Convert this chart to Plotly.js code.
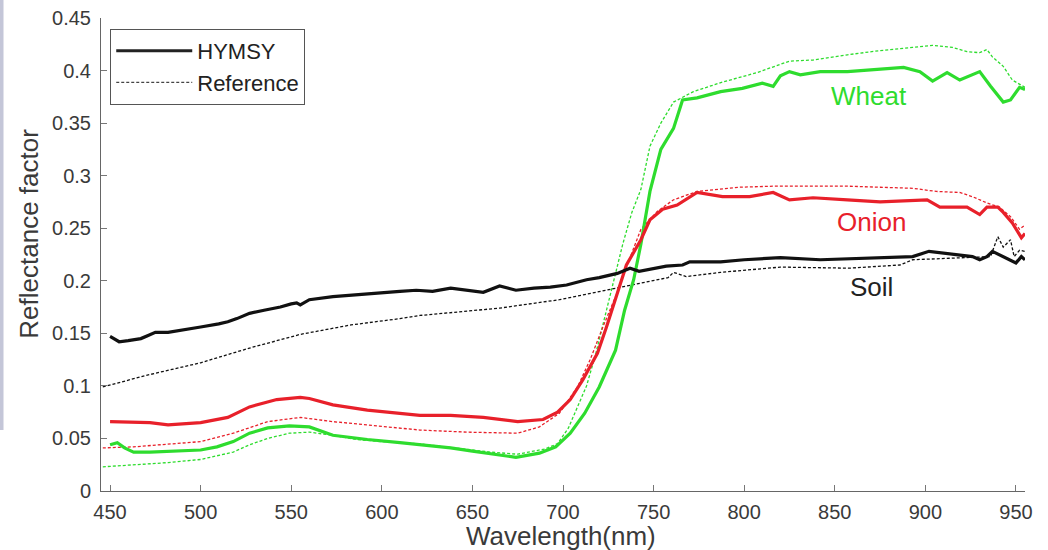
<!DOCTYPE html>
<html>
<head>
<meta charset="utf-8">
<script src="https://cdn.plot.ly/plotly-3.0.1.min.js"></script>
<style>html,body{margin:0;padding:0;background:#fff;}</style>
</head>
<body>
<div id="chart" style="width:1048px;height:550px;"></div>
<script>
// Soil
const soilHymsyNm = [450,455,460,467,471,475,482,490,500,510,515,520,527,535,544,550,553,555,560,573,580,592,600,610,619,628,638,647,656,665,674,684,693,702,713,720,730,737,742,757,766,770,787,800,820,842,857,875,893,902,912,919,926,930,934,937,943,948,950,953,955];
const soilHymsy = [0.147,0.142,0.143,0.145,0.148,0.151,0.151,0.153,0.156,0.159,0.161,0.164,0.169,0.172,0.175,0.178,0.179,0.177,0.182,0.185,0.186,0.188,0.189,0.190,0.191,0.190,0.193,0.191,0.189,0.195,0.191,0.193,0.194,0.196,0.201,0.203,0.207,0.212,0.209,0.214,0.215,0.218,0.218,0.220,0.222,0.220,0.221,0.222,0.223,0.228,0.226,0.225,0.223,0.220,0.223,0.228,0.223,0.218,0.217,0.223,0.220];
const soilRefNm = [446,470,500,527,555,583,610,621,640,665,698,730,750,758,761,764,768,787,800,820,858,886,893,919,936,940,943,947,949,952,955];
const soilRef = [0.099,0.110,0.122,0.136,0.149,0.158,0.164,0.167,0.170,0.174,0.182,0.193,0.200,0.203,0.208,0.206,0.204,0.208,0.210,0.213,0.212,0.215,0.220,0.222,0.223,0.242,0.232,0.239,0.223,0.229,0.228];
// Wheat
const wheatHymsyNm = [450,454,458,463,472,485,500,509,518,527,537,549,560,573,592,610,621,638,650,665,674,687,696,704,712,720,729,734,739,743,748,754,761,766,774,787,799,810,816,820,825,831,842,857,875,888,897,904,912,919,930,936,943,947,952,955];
const wheatHymsy = [0.044,0.046,0.041,0.037,0.037,0.038,0.039,0.042,0.047,0.055,0.060,0.062,0.061,0.053,0.049,0.046,0.044,0.041,0.038,0.034,0.032,0.036,0.042,0.055,0.074,0.099,0.134,0.172,0.201,0.235,0.285,0.325,0.345,0.372,0.374,0.380,0.383,0.388,0.385,0.395,0.399,0.396,0.399,0.399,0.401,0.403,0.399,0.390,0.398,0.391,0.399,0.385,0.370,0.372,0.384,0.382];
const wheatRefNm = [446,463,482,500,518,527,537,549,560,573,586,600,620,640,660,675,690,697,703,708,713,718,723,728,733,738,743,748,754,761,772,788,807,825,838,857,875,893,904,915,923,930,934,937,943,948,952,955];
const wheatRef = [0.023,0.025,0.027,0.030,0.037,0.044,0.050,0.055,0.056,0.053,0.049,0.047,0.045,0.041,0.037,0.035,0.040,0.045,0.060,0.080,0.100,0.130,0.165,0.200,0.235,0.265,0.287,0.328,0.350,0.370,0.380,0.389,0.398,0.409,0.410,0.415,0.419,0.422,0.424,0.422,0.418,0.417,0.420,0.413,0.404,0.391,0.387,0.384];
// Onion
const onionHymsyNm = [450,463,472,482,500,515,527,542,555,560,573,592,610,621,638,656,675,689,697,704,711,719,724,730,735,743,748,755,763,774,788,803,816,825,838,857,875,901,908,923,930,934,940,943,948,953,955];
const onionHymsy = [0.066,0.065,0.065,0.063,0.065,0.070,0.080,0.087,0.089,0.088,0.082,0.077,0.074,0.072,0.072,0.070,0.066,0.068,0.075,0.087,0.106,0.131,0.156,0.189,0.215,0.239,0.258,0.268,0.272,0.284,0.280,0.280,0.284,0.277,0.279,0.277,0.275,0.277,0.270,0.270,0.263,0.270,0.270,0.265,0.255,0.241,0.245];
const onionRefNm = [446,463,500,518,537,555,573,592,610,621,647,675,687,698,708,715,722,730,735,743,752,761,774,797,816,838,857,875,893,906,919,926,934,941,947,952,955];
const onionRef = [0.041,0.042,0.047,0.055,0.066,0.070,0.066,0.063,0.060,0.058,0.056,0.055,0.061,0.074,0.099,0.125,0.156,0.189,0.213,0.249,0.266,0.277,0.285,0.289,0.290,0.290,0.290,0.289,0.288,0.285,0.284,0.280,0.274,0.270,0.261,0.249,0.253];

const legendNames = ["HYMSY", "Reference"];
const labelNames = ["Wheat", "Onion", "Soil"];
const labelNm = [869, 870, 870.5];
const labelVal = [0.376, 0.256, 0.194];
const xTicks = [450,500,550,600,650,700,750,800,850,900,950];

const FONT = "Liberation Sans, Arial, sans-serif";
const GREEN = "#2edc2e", RED = "#e8202a", BLACK = "#111111";
const solid = c => ({color: c, width: 3.2});
const dashed = c => ({color: c, width: 1.3, dash: "3px,2px"});

const traces = [
  {x: wheatRefNm, y: wheatRef, mode: "lines", line: dashed(GREEN), showlegend: false},
  {x: onionRefNm, y: onionRef, mode: "lines", line: dashed(RED), showlegend: false},
  {x: soilRefNm, y: soilRef, mode: "lines", line: dashed(BLACK), showlegend: false},
  {x: wheatHymsyNm, y: wheatHymsy, mode: "lines", line: solid(GREEN), showlegend: false},
  {x: onionHymsyNm, y: onionHymsy, mode: "lines", line: solid(RED), showlegend: false},
  {x: soilHymsyNm, y: soilHymsy, mode: "lines", line: solid(BLACK), showlegend: false},
  {x: [null], y: [null], mode: "lines", name: legendNames[0], line: {color: "#222", width: 3}},
  {x: [null], y: [null], mode: "lines", name: legendNames[1], line: {color: "#444", width: 1.2, dash: "3px,2px"}}
];

const labelColors = [GREEN, RED, "#222"];
const annotations = labelNames.map((t, i) => ({
  x: labelNm[i], y: labelVal[i], xref: "x", yref: "y", text: t, showarrow: false,
  font: {family: FONT, size: 26, color: labelColors[i]}
}));
annotations.push({
  xref: "paper", yref: "paper", x: 0.498, y: -0.095, xanchor: "center", yanchor: "middle",
  text: "Wavelength(nm)", showarrow: false, font: {family: FONT, size: 26, color: "#3a3a3a"}
});
annotations.push({
  xref: "paper", yref: "paper", x: -0.0779, y: 0.544, xanchor: "center", yanchor: "middle",
  text: "Reflectance factor", textangle: -90, showarrow: false, font: {family: FONT, size: 26, color: "#3a3a3a"}
});

const axisFont = {family: FONT, size: 20, color: "#3a3a3a"};
const layout = {
  width: 1048, height: 550,
  margin: {l: 101, r: 23, t: 18, b: 59, pad: 0},
  paper_bgcolor: "#fff", plot_bgcolor: "#fff",
  font: {family: FONT, color: "#333"},
  xaxis: {
    range: [445, 955], tickvals: xTicks, ticks: "inside", ticklen: 6, tickcolor: "#777",
    showline: true, linecolor: "#666", linewidth: 1, showgrid: false, zeroline: false,
    tickfont: axisFont, ticklabelstandoff: 3, automargin: false
  },
  yaxis: {
    range: [0, 0.45], dtick: 0.05, ticks: "inside", ticklen: 6, tickcolor: "#777",
    showline: true, linecolor: "#666", linewidth: 1, showgrid: false, zeroline: false,
    tickfont: axisFont, ticklabelstandoff: 5, automargin: false
  },
  legend: {
    x: 0.01, y: 0.977, xanchor: "left", yanchor: "top",
    bordercolor: "#555", borderwidth: 1, bgcolor: "#fff",
    font: {family: FONT, size: 22, color: "#222"},
    itemwidth: 76, entrywidth: 126, tracegroupgap: 0
  },
  annotations: annotations,
  shapes: [{
    type: "rect", xref: "paper", yref: "paper",
    x0: -0.1093, x1: -0.1055, y0: 0.129, y1: 1.04,
    fillcolor: "#c4c6d8", line: {width: 0}, layer: "below"
  }]
};

Plotly.newPlot("chart", traces, layout, {displayModeBar: false, staticPlot: true});
</script>
</body>
</html>
